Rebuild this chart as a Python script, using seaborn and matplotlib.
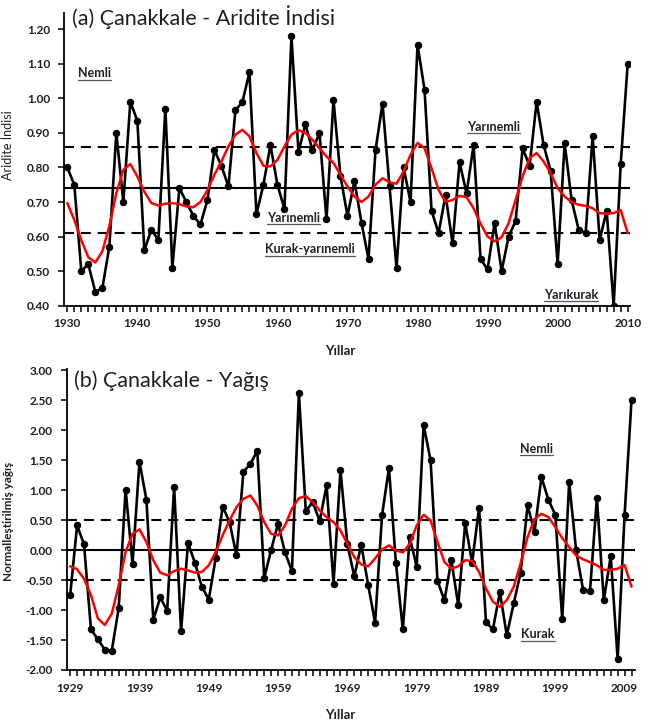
import numpy as np
import pandas as pd
import seaborn as sns
import matplotlib.pyplot as plt
from matplotlib.ticker import MultipleLocator, FixedLocator
from matplotlib.lines import Line2D

# (a) aridity index, 1930-2010
years_a = list(range(1930, 2011))
aridity = [0.80, 0.75, 0.50, 0.52, 0.44, 0.45, 0.57, 0.90, 0.70, 0.99,
           0.935, 0.56, 0.62, 0.59, 0.97, 0.51, 0.74, 0.70, 0.66, 0.635,
           0.705, 0.85, 0.805, 0.745, 0.965, 0.99, 1.075, 0.665, 0.75, 0.865,
           0.75, 0.68, 1.18, 0.845, 0.925, 0.85, 0.90, 0.65, 0.995, 0.775,
           0.66, 0.76, 0.64, 0.535, 0.85, 0.985, 0.745, 0.51, 0.80, 0.70,
           1.155, 1.025, 0.675, 0.61, 0.72, 0.58, 0.815, 0.725, 0.865, 0.535,
           0.505, 0.64, 0.50, 0.60, 0.645, 0.855, 0.805, 0.99, 0.865, 0.79,
           0.52, 0.87, 0.705, 0.62, 0.61, 0.89, 0.59, 0.675, 0.40, 0.81,
           1.10]
aridity_smooth = [0.697, 0.648, 0.59, 0.54, 0.525, 0.557, 0.63, 0.726, 0.793, 0.81,
                  0.774, 0.73, 0.697, 0.69, 0.695, 0.697, 0.694, 0.687, 0.685, 0.70,
                  0.734, 0.779, 0.817, 0.861, 0.895, 0.909, 0.89, 0.842, 0.805, 0.803,
                  0.822, 0.861, 0.895, 0.908, 0.90, 0.88, 0.856, 0.832, 0.813, 0.779,
                  0.745, 0.716, 0.70, 0.716, 0.75, 0.769, 0.757, 0.753, 0.788, 0.837,
                  0.871, 0.856, 0.798, 0.735, 0.70, 0.706, 0.718, 0.714, 0.682, 0.637,
                  0.60, 0.586, 0.598, 0.639, 0.706, 0.774, 0.827, 0.842, 0.817, 0.784,
                  0.74, 0.716, 0.70, 0.692, 0.689, 0.682, 0.668, 0.666, 0.668, 0.677,
                  0.61]
aridity_mean = 0.74
aridity_bounds = [0.86, 0.61]

# (b) normalised precipitation, 1929-2010
years_b = list(range(1929, 2011))
precip = [-0.75, 0.41, 0.095, -1.32, -1.49, -1.66, -1.68, -0.97, 1.01, -0.23,
          1.475, 0.84, -1.16, -0.79, -1.01, 1.06, -1.35, 0.115, -0.21, -0.61,
          -0.825, -0.13, 0.725, 0.465, -0.09, 1.31, 1.43, 1.66, -0.465, 0.005,
          0.44, -0.04, -0.35, 2.62, 0.65, 0.80, 0.485, 1.08, -0.56, 1.335,
          0.095, -0.44, 0.09, -0.585, -1.21, 0.58, 1.37, -0.21, -1.32, 0.215,
          -0.28, 2.09, 1.50, -0.51, -0.84, -0.17, -0.92, 0.45, -0.21, 0.705,
          -1.205, -1.32, -0.70, -1.42, -0.89, -0.375, 0.745, 0.30, 1.215, 0.84,
          0.59, -1.155, 1.13, 0.0, -0.66, -0.69, 0.87, -0.835, -0.10, -1.82,
          0.59, 2.505]
precip_smooth = [-0.27, -0.32, -0.48, -0.75, -1.14, -1.25, -1.06, -0.59, -0.03, 0.27,
                 0.345, 0.134, -0.17, -0.376, -0.42, -0.35, -0.31, -0.34, -0.376, -0.365,
                 -0.255, -0.03, 0.245, 0.494, 0.716, 0.855, 0.91, 0.744, 0.467, 0.27,
                 0.245, 0.41, 0.69, 0.866, 0.90, 0.80, 0.66, 0.55, 0.467, 0.328,
                 0.105, -0.116, -0.24, -0.27, -0.14, 0.01, 0.078, -0.006, -0.04, 0.105,
                 0.41, 0.588, 0.494, 0.134, -0.2, -0.31, -0.27, -0.17, -0.18, -0.365,
                 -0.64, -0.86, -0.946, -0.836, -0.61, -0.22, 0.217, 0.52, 0.605, 0.55,
                 0.383, 0.2, 0.05, -0.09, -0.155, -0.2, -0.255, -0.33, -0.33, -0.31,
                 -0.25, -0.61]
precip_mean = 0.0
precip_bounds = [0.5, -0.5]

df_a = pd.DataFrame({'year': years_a, 'value': aridity, 'smooth': aridity_smooth})
df_b = pd.DataFrame({'year': years_b, 'value': precip, 'smooth': precip_smooth})

sns.set_style('ticks')
plt.rcParams['font.family'] = ['Lato', 'DejaVu Sans']
TXT = '#1e1e28'

fig = plt.figure(figsize=(6.49, 7.2), dpi=100)
W, H = 649, 720
ax_a = fig.add_axes([64 / W, 1 - 305.7 / H, 566 / W, 292.7 / H])
ax_b = fig.add_axes([66.7 / W, 1 - 670 / H, 568.3 / W, 301 / H])


def draw_panel(ax, df, mean, bounds):
    for b in bounds:
        ax.axhline(b, color='black', lw=1.5, ls=(0, (4.8, 3.3)), zorder=1)
    ax.axhline(mean, color='black', lw=1.5, zorder=1)
    sns.lineplot(data=df, x='year', y='value', ax=ax, color='black', lw=1.9,
                 marker='o', markersize=4.6, markeredgecolor='black', zorder=3)
    sns.lineplot(data=df, x='year', y='smooth', ax=ax, color='#ff0000', lw=1.8, zorder=4)
    sns.despine(ax=ax)
    for s in ['left', 'bottom']:
        ax.spines[s].set_linewidth(1.3)
        ax.spines[s].set_color('black')
    ax.xaxis.set_minor_locator(MultipleLocator(1))
    ax.tick_params(axis='both', which='both', direction='out', length=4, width=1.1,
                   color='black', labelcolor=TXT, labelsize=8.5)
    ax.tick_params(axis='x', pad=5)
    ax.tick_params(axis='y', pad=6)


# panel (a)
draw_panel(ax_a, df_a, aridity_mean, aridity_bounds)
ax_a.set_xlim(1929.53, 2010.33)
ax_a.set_ylim(0.40, 1.247)
ax_a.xaxis.set_major_locator(FixedLocator(list(range(1930, 2011, 10))))
ax_a.yaxis.set_major_locator(FixedLocator(list(np.round(np.arange(0.4, 1.21, 0.1), 2))))
ax_a.set_xticklabels([str(y) for y in range(1930, 2011, 10)], fontweight='bold')
ax_a.set_yticklabels([f'{v:.2f}' for v in np.arange(0.4, 1.21, 0.1)], fontweight='bold')
ax_a.set_xlabel('Yıllar', fontsize=9.5, fontweight='bold', color=TXT)
ax_a.set_ylabel('Aridite İndisi', fontsize=9, color=TXT)
ax_a.xaxis.set_label_coords(0.488, -0.134)
ax_a.yaxis.set_label_coords(-0.088, 0.55)

# panel (b)
draw_panel(ax_b, df_b, precip_mean, precip_bounds)
ax_b.set_xlim(1928.5, 2010.5)
ax_b.set_ylim(-2.0, 3.02)
ax_b.xaxis.set_major_locator(FixedLocator(list(range(1929, 2011, 10))))
ax_b.yaxis.set_major_locator(FixedLocator(list(np.arange(-2.0, 3.01, 0.5))))
ax_b.set_xticklabels([str(y) for y in range(1929, 2011, 10)], fontweight='bold')
ax_b.set_yticklabels([f'{v:.2f}' for v in np.arange(-2.0, 3.01, 0.5)], fontweight='bold')
ax_b.set_xlabel('Yıllar', fontsize=9.5, fontweight='bold', color=TXT)
ax_b.set_ylabel('Normalleştirilmiş yağış', fontsize=8.5, fontweight='bold', color=TXT)
ax_b.xaxis.set_label_coords(0.481, -0.13)
ax_b.yaxis.set_label_coords(-0.092, 0.495)

# titles
fig.text(72 / W, 1 - 25 / H, '(a) Çanakkale - Aridite İndisi', fontsize=15.5,
         color=TXT, va='baseline', ha='left')
fig.text(74 / W, 1 - 386.7 / H, '(b) Çanakkale - Yağış', fontsize=15.5,
         color=TXT, va='baseline', ha='left')

# class labels (underlined)
labels = [
    (ax_a, 1933.9, 1.072, 'Nemli'),
    (ax_a, 1990.9, 0.918, 'Yarınemli'),
    (ax_a, 1962.3, 0.654, 'Yarınemli'),
    (ax_a, 1964.7, 0.564, 'Kurak-yarınemli'),
    (ax_a, 2001.9, 0.431, 'Yarıkurak'),
    (ax_b, 1996.3, 1.69, 'Nemli'),
    (ax_b, 1996.5, -1.40, 'Kurak'),
]
texts = []
for ax, x, y, s in labels:
    t = ax.text(x, y, s, ha='center', va='center', fontsize=9, fontweight='bold',
                color=TXT, zorder=6)
    texts.append(t)

fig.canvas.draw()
inv = fig.transFigure.inverted()
for t in texts:
    bb = t.get_window_extent()
    (x0, y0), (x1, y1) = inv.transform([(bb.x0, bb.y0 - 0.5), (bb.x1, bb.y0 - 0.5)])
    fig.add_artist(Line2D([x0, x1], [y0, y1], transform=fig.transFigure,
                          color='#555560', lw=0.9))

fig.savefig('out.png', dpi=100)
